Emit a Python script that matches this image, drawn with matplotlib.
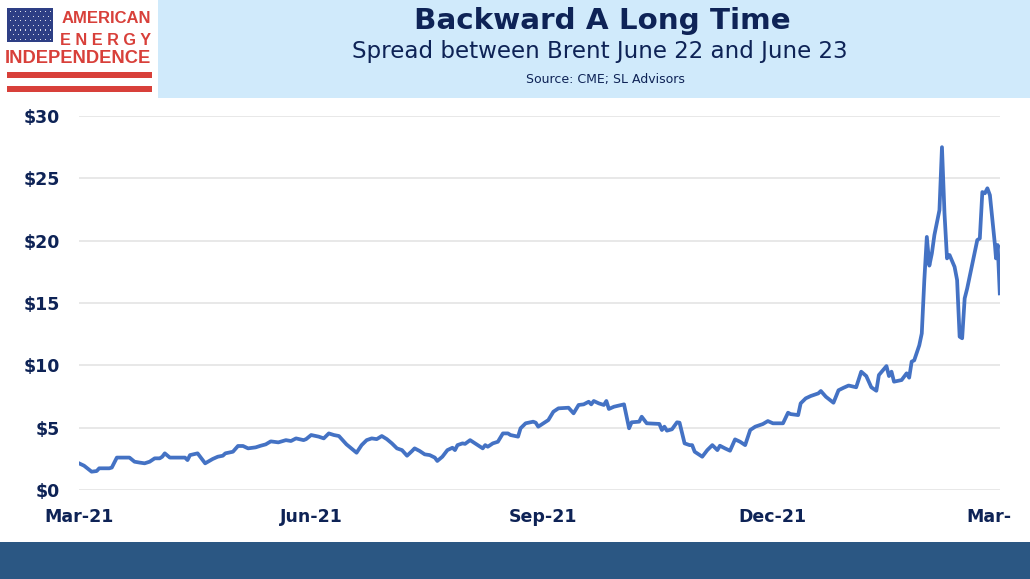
import matplotlib
matplotlib.use("Agg")
import matplotlib.pyplot as plt
from matplotlib.patches import Rectangle
from matplotlib.transforms import ScaledTranslation
import pandas as pd

# ---------------- data ----------------
dates = [
    "2021-03-01", "2021-03-03", "2021-03-06", "2021-03-08", "2021-03-09", "2021-03-13",
    "2021-03-14", "2021-03-16", "2021-03-21", "2021-03-23", "2021-03-25", "2021-03-27",
    "2021-03-29", "2021-03-31", "2021-04-02", "2021-04-03", "2021-04-04", "2021-04-06",
    "2021-04-12", "2021-04-13", "2021-04-14", "2021-04-17", "2021-04-18", "2021-04-20",
    "2021-04-23", "2021-04-25", "2021-04-27", "2021-04-28", "2021-05-01", "2021-05-03",
    "2021-05-05", "2021-05-07", "2021-05-10", "2021-05-12", "2021-05-14", "2021-05-16",
    "2021-05-19", "2021-05-22", "2021-05-24", "2021-05-26", "2021-05-29", "2021-05-30",
    "2021-06-01", "2021-06-04", "2021-06-06", "2021-06-08", "2021-06-10", "2021-06-12",
    "2021-06-15", "2021-06-19", "2021-06-21", "2021-06-23", "2021-06-25", "2021-06-27",
    "2021-06-28", "2021-06-29", "2021-07-01", "2021-07-03", "2021-07-05", "2021-07-07",
    "2021-07-09", "2021-07-11", "2021-07-12", "2021-07-14", "2021-07-16", "2021-07-18",
    "2021-07-20", "2021-07-21", "2021-07-23", "2021-07-25", "2021-07-27", "2021-07-28",
    "2021-07-29", "2021-07-31", "2021-08-01", "2021-08-03", "2021-08-05", "2021-08-08",
    "2021-08-09", "2021-08-10", "2021-08-12", "2021-08-14", "2021-08-16", "2021-08-18",
    "2021-08-19", "2021-08-22", "2021-08-23", "2021-08-25", "2021-08-28", "2021-08-29",
    "2021-08-30", "2021-09-01", "2021-09-03", "2021-09-05", "2021-09-07", "2021-09-11",
    "2021-09-13", "2021-09-15", "2021-09-17", "2021-09-19", "2021-09-20", "2021-09-21",
    "2021-09-23", "2021-09-25", "2021-09-26", "2021-09-27", "2021-09-29", "2021-10-03",
    "2021-10-05", "2021-10-06", "2021-10-09", "2021-10-10", "2021-10-12", "2021-10-17",
    "2021-10-18", "2021-10-19", "2021-10-20", "2021-10-22", "2021-10-24", "2021-10-25",
    "2021-10-27", "2021-10-29", "2021-10-30", "2021-10-31", "2021-11-02", "2021-11-03",
    "2021-11-05", "2021-11-07", "2021-11-09", "2021-11-10", "2021-11-12", "2021-11-14",
    "2021-11-16", "2021-11-18", "2021-11-20", "2021-11-22", "2021-11-24", "2021-11-27",
    "2021-11-29", "2021-12-01", "2021-12-05", "2021-12-07", "2021-12-08", "2021-12-11",
    "2021-12-12", "2021-12-14", "2021-12-16", "2021-12-19", "2021-12-20", "2021-12-22",
    "2021-12-25", "2021-12-27", "2021-12-29", "2021-12-31", "2022-01-03", "2022-01-05",
    "2022-01-07", "2022-01-09", "2022-01-11", "2022-01-12", "2022-01-15", "2022-01-16",
    "2022-01-17", "2022-01-18", "2022-01-21", "2022-01-23", "2022-01-24", "2022-01-25",
    "2022-01-26", "2022-01-28", "2022-01-29", "2022-01-30", "2022-01-31", "2022-02-01",
    "2022-02-02", "2022-02-03", "2022-02-05", "2022-02-06", "2022-02-07", "2022-02-08",
    "2022-02-09", "2022-02-11", "2022-02-12", "2022-02-13", "2022-02-14", "2022-02-15",
    "2022-02-16", "2022-02-20", "2022-02-21", "2022-02-22", "2022-02-23", "2022-02-24",
    "2022-02-25", "2022-02-27T00:00", "2022-02-27T10:00", "2022-02-28T02:00", "2022-02-28T22:00",
]
spread = [
    2.14, 1.95, 1.47, 1.52, 1.74, 1.74,
    1.80, 2.60, 2.60, 2.27, 2.20, 2.14,
    2.27, 2.54, 2.54, 2.67, 2.94, 2.60,
    2.60, 2.40, 2.80, 2.94, 2.67, 2.14,
    2.49, 2.67, 2.75, 2.94, 3.07, 3.53,
    3.53, 3.34, 3.42, 3.55, 3.66, 3.90,
    3.82, 4.00, 3.93, 4.14, 4.00, 4.08,
    4.41, 4.28, 4.14, 4.54, 4.41, 4.33,
    3.66, 2.99, 3.60, 4.00, 4.14, 4.08,
    4.20, 4.33, 4.08, 3.74, 3.34, 3.20,
    2.75, 3.13, 3.34, 3.13, 2.86, 2.80,
    2.60, 2.33, 2.67, 3.20, 3.39, 3.20,
    3.60, 3.74, 3.70, 4.00, 3.74, 3.34,
    3.60, 3.47, 3.74, 3.87, 4.54, 4.54,
    4.41, 4.28, 4.95, 5.35, 5.48, 5.40,
    5.08, 5.35, 5.61, 6.28, 6.55, 6.60,
    6.15, 6.82, 6.87, 7.08, 6.87, 7.14,
    6.95, 6.82, 7.14, 6.50, 6.68, 6.87,
    4.95, 5.43, 5.48, 5.88, 5.35, 5.30,
    4.81, 5.08, 4.76, 4.87, 5.43, 5.40,
    3.74, 3.60, 3.60, 3.07, 2.80, 2.67,
    3.20, 3.60, 3.20, 3.55, 3.34, 3.15,
    4.06, 3.87, 3.60, 4.81, 5.08, 5.29,
    5.53, 5.35, 5.35, 6.20, 6.09, 6.01,
    6.95, 7.35, 7.54, 7.75, 7.94, 7.48,
    7.00, 8.00, 8.20, 8.38, 8.24, 9.49,
    9.14, 8.24, 7.96, 9.22, 9.94, 9.14,
    9.49, 8.69, 8.82, 9.36, 9.01, 10.30,
    10.40, 11.60, 12.56, 16.80, 20.30, 18.00,
    18.98, 20.45, 22.45, 27.50, 22.20, 18.58,
    18.85, 17.90, 16.84, 12.30, 12.17, 15.37,
    16.17, 20.05, 20.18, 23.90, 23.80, 24.20,
    23.65, 19.65, 18.58, 19.65, 15.77,
]
tick_dates = ["2021-03-01", "2021-06-01", "2021-09-01", "2021-12-01", "2022-03-01"]
tick_labels = ["Mar-21", "Jun-21", "Sep-21", "Dec-21", "Mar-"]
y_ticks = [0, 5, 10, 15, 20, 25, 30]

title = "Backward A Long Time"
subtitle = "Spread between Brent June 22 and June 23"
source = "Source: CME; SL Advisors"

# ---------------- style ----------------
NAVY = "#0E2356"
LINE = "#4472C4"
GRID = "#E2E2E2"
RED = "#D8403A"
FLAG = "#2E3F85"
BAND = "#2B5783"
BOX = "#D0EAFB"

W, H = 1030, 579
fig = plt.figure(figsize=(W / 100, H / 100), dpi=100)
fig.patch.set_facecolor("white")

def fx(px):
    return px / W

def fy(py):
    return 1 - py / H

# title box
fig.patches.append(Rectangle((fx(158), fy(98)), fx(W) - fx(158), fy(0) - fy(98),
                             transform=fig.transFigure, facecolor=BOX, edgecolor="none", zorder=0))
# bottom band
fig.patches.append(Rectangle((0, 0), 1, fy(542), transform=fig.transFigure,
                             facecolor=BAND, edgecolor="none", zorder=0))

# logo: flag
fig.patches.append(Rectangle((fx(7), fy(42)), fx(46), fy(8) - fy(42), transform=fig.transFigure,
                             facecolor=FLAG, edgecolor="none", zorder=1))
for r in range(7):
    for c in range(9):
        xo = 10 + c * 5 + (2.5 if r % 2 else 0)
        if xo > 51:
            continue
        yo = 11 + r * 4.6
        fig.patches.append(Rectangle((fx(xo), fy(yo + 1.2)), fx(1.4), fy(0) - fy(1.2),
                                     transform=fig.transFigure, facecolor="white",
                                     edgecolor="none", alpha=0.85, zorder=2))
# stripes
for top in (72, 86):
    fig.patches.append(Rectangle((fx(7), fy(top + 6)), fx(145), fy(0) - fy(6),
                                 transform=fig.transFigure, facecolor=RED, edgecolor="none", zorder=1))
fig.text(fx(151), fy(23), "AMERICAN", ha="right", va="baseline", color=RED,
         fontsize=12, fontweight="bold", family="Liberation Sans")
fig.text(fx(151), fy(45), "E N E R G Y", ha="right", va="baseline", color=RED,
         fontsize=11.7, fontweight="bold", family="Liberation Sans")
fig.text(fx(151), fy(63), "INDEPENDENCE", ha="right", va="baseline", color=RED,
         fontsize=13.2, fontweight="bold", family="Liberation Sans")

# titles
fig.text(fx(602), fy(29), title, ha="center", va="baseline", color=NAVY,
         fontsize=21.2, fontweight="bold", family="DejaVu Sans")
fig.text(fx(600), fy(58), subtitle, ha="center", va="baseline", color=NAVY,
         fontsize=16.6, family="DejaVu Sans")
fig.text(fx(605), fy(83), source, ha="center", va="baseline", color=NAVY,
         fontsize=9, family="DejaVu Sans")

# ---------------- chart ----------------
ax = fig.add_axes([fx(79), fy(490), fx(1000) - fx(79), fy(116) - fy(490)])
ax.set_facecolor("none")
x = pd.to_datetime(dates, format="ISO8601")
ax.plot(x, spread, color=LINE, linewidth=2.7, solid_joinstyle="round", zorder=3)

ax.set_xlim(pd.Timestamp(tick_dates[0]), pd.Timestamp(tick_dates[-1]))
ax.set_ylim(y_ticks[0], y_ticks[-1])
ax.set_yticks(y_ticks)
ax.set_yticklabels([f"${v}" for v in y_ticks])
ax.set_xticks(pd.to_datetime(tick_dates))
ax.set_xticklabels(tick_labels)
ax.grid(axis="y", color=GRID, linewidth=1.1)
ax.set_axisbelow(True)
for s in ax.spines.values():
    s.set_visible(False)
ax.tick_params(axis="both", length=0, colors=NAVY, labelsize=12.5)
ax.tick_params(axis="y", pad=14)
ax.tick_params(axis="x", pad=13)
for lab in ax.get_xticklabels() + ax.get_yticklabels():
    lab.set_fontweight("bold")
    lab.set_family("DejaVu Sans")

fig.canvas.draw()
# the last month label is shown truncated ("Mar-") and sits a little left of its tick
last = ax.xaxis.get_major_ticks()[-1].label1
last.set_transform(last.get_transform() + ScaledTranslation(-0.11, 0, fig.dpi_scale_trans))

fig.savefig("out.png", dpi=100)
